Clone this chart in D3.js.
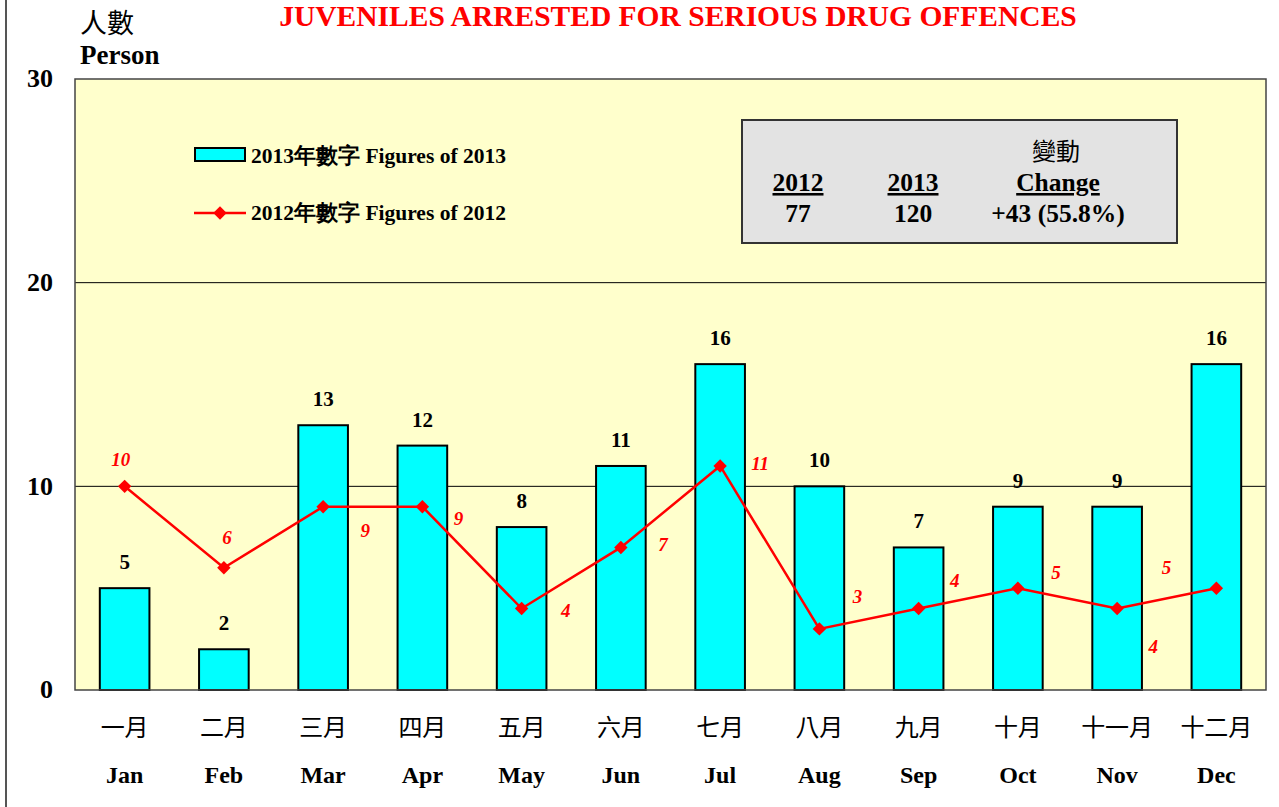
<!DOCTYPE html>
<html>
<head>
<meta charset="utf-8">
<script src="https://cdn.jsdelivr.net/npm/d3@7"></script>
<style>
  body { margin: 0; background: #fff; }
  svg { display: block; font-family: "Liberation Serif", "Times New Roman", serif; }
</style>
</head>
<body>
<div id="chart"></div>
<script>
const monthsZh = ['一月', '二月', '三月', '四月', '五月', '六月', '七月', '八月', '九月', '十月', '十一月', '十二月'];
const monthsEn = ['Jan', 'Feb', 'Mar', 'Apr', 'May', 'Jun', 'Jul', 'Aug', 'Sep', 'Oct', 'Nov', 'Dec'];
const figures2013 = [5, 2, 13, 12, 8, 11, 16, 10, 7, 9, 9, 16];
const figures2012 = [10, 6, 9, 9, 4, 7, 11, 3, 4, 5, 4, 5];
const yTicks = [0, 10, 20, 30];
// where each 2012 label sits relative to its marker (px)
const label2012Offset = [[-4, -20], [3, -24], [42, 30], [36, 18], [44, 8], [42, 4], [40, 4], [38, -26], [36, -22], [38, -9], [36, 44], [-50, -14]];

const W = 1279, H = 807;
const margin = { top: 79, right: 13, bottom: 117, left: 75 };
const width = W - margin.left - margin.right,
  height = H - margin.top - margin.bottom;

const svg = d3.select('#chart').append('svg')
  .attr('width', W)
  .attr('height', H);

// left frame edge
svg.append('line')
  .attr('x1', 6).attr('x2', 6).attr('y1', 0).attr('y2', H)
  .attr('stroke', '#555').attr('stroke-width', 2);

svg.append('text')
  .attr('x', 678).attr('y', 26)
  .attr('text-anchor', 'middle')
  .attr('fill', '#ff0000')
  .attr('font-weight', 'bold')
  .attr('font-size', 29.5)
  .text('JUVENILES ARRESTED FOR SERIOUS DRUG OFFENCES');

svg.append('text')
  .attr('x', 80).attr('y', 33)
  .attr('font-family', '"Noto Sans CJK TC", sans-serif')
  .attr('font-size', 27)
  .text('人數');
svg.append('text')
  .attr('x', 80).attr('y', 64)
  .attr('font-weight', 'bold')
  .attr('font-size', 27)
  .text('Person');

const g = svg.append('g')
  .attr('transform', `translate(${margin.left}, ${margin.top})`);

const x = d3.scaleBand()
  .range([0, width])
  .domain(monthsEn)
  .paddingInner(0.5)
  .paddingOuter(0.25);
const y = d3.scaleLinear()
  .range([height, 0])
  .domain([0, 30]);

g.append('rect')
  .attr('width', width).attr('height', height)
  .attr('fill', '#ffffcc');

g.selectAll('.grid')
  .data(yTicks.filter(d => d > 0 && d < 30))
  .enter().append('line')
  .attr('class', 'grid')
  .attr('x1', 0).attr('x2', width)
  .attr('y1', d => y(d)).attr('y2', d => y(d))
  .attr('stroke', '#000').attr('stroke-width', 1);

const yAxis = g.append('g')
  .call(d3.axisLeft(y).tickValues(yTicks).tickSize(0).tickPadding(22));
yAxis.select('.domain').remove();
yAxis.selectAll('text')
  .attr('font-family', '"Liberation Serif", serif')
  .attr('font-weight', 'bold')
  .attr('font-size', 26)
  .attr('dy', '0.3em')
  .attr('fill', '#000');

// bars
g.selectAll('.bar')
  .data(figures2013)
  .enter().append('rect')
  .attr('class', 'bar')
  .attr('x', (d, i) => x(monthsEn[i]))
  .attr('y', d => y(d))
  .attr('width', x.bandwidth())
  .attr('height', d => height - y(d))
  .attr('fill', '#00ffff')
  .attr('stroke', '#000')
  .attr('stroke-width', 2);

g.selectAll('.barLabel')
  .data(figures2013)
  .enter().append('text')
  .attr('class', 'barLabel')
  .attr('x', (d, i) => x(monthsEn[i]) + x.bandwidth() / 2)
  .attr('y', d => y(d) - 19)
  .attr('text-anchor', 'middle')
  .attr('font-weight', 'bold')
  .attr('font-size', 21)
  .text(d => d);

// 2012 line
const cx = (d, i) => x(monthsEn[i]) + x.bandwidth() / 2;
const line = d3.line()
  .x(cx)
  .y(d => y(d));
g.append('path')
  .datum(figures2012)
  .attr('d', line)
  .attr('fill', 'none')
  .attr('stroke', '#ff0000')
  .attr('stroke-width', 2.5);

const diamond = d3.symbol().type(d3.symbolSquare).size(90);
g.selectAll('.marker')
  .data(figures2012)
  .enter().append('path')
  .attr('class', 'marker')
  .attr('d', diamond)
  .attr('transform', (d, i) => `translate(${cx(d, i)}, ${y(d)}) rotate(45)`)
  .attr('fill', '#ff0000');

g.selectAll('.lineLabel')
  .data(figures2012)
  .enter().append('text')
  .attr('class', 'lineLabel')
  .attr('x', (d, i) => cx(d, i) + label2012Offset[i][0])
  .attr('y', (d, i) => y(d) + label2012Offset[i][1])
  .attr('text-anchor', 'middle')
  .attr('fill', '#ff0000')
  .attr('font-weight', 'bold')
  .attr('font-style', 'italic')
  .attr('font-size', 19)
  .text(d => d);

g.append('rect')
  .attr('width', width).attr('height', height)
  .attr('fill', 'none')
  .attr('stroke', '#444').attr('stroke-width', 1.5);

// x labels
const xAxis = g.append('g')
  .attr('transform', `translate(0, ${height})`);
xAxis.selectAll('.zh')
  .data(monthsZh)
  .enter().append('text')
  .attr('x', (d, i) => x(monthsEn[i]) + x.bandwidth() / 2)
  .attr('y', 46)
  .attr('text-anchor', 'middle')
  .attr('font-family', '"Noto Sans CJK TC", sans-serif')
  .attr('font-size', 24)
  .text(d => d);
xAxis.selectAll('.en')
  .data(monthsEn)
  .enter().append('text')
  .attr('x', d => x(d) + x.bandwidth() / 2)
  .attr('y', 93)
  .attr('text-anchor', 'middle')
  .attr('font-weight', 'bold')
  .attr('font-size', 24)
  .text(d => d);

// legend
const legend = svg.append('g');
legend.append('rect')
  .attr('x', 195).attr('y', 148).attr('width', 50).attr('height', 13)
  .attr('fill', '#00ffff').attr('stroke', '#000').attr('stroke-width', 2);
legend.append('text')
  .attr('x', 251).attr('y', 163)
  .attr('font-weight', 'bold').attr('font-size', 21.5)
  .text('2013年數字 Figures of 2013');
legend.append('line')
  .attr('x1', 194).attr('x2', 246).attr('y1', 213).attr('y2', 213)
  .attr('stroke', '#ff0000').attr('stroke-width', 2.5);
legend.append('path')
  .attr('d', diamond)
  .attr('transform', 'translate(220, 213) rotate(45)')
  .attr('fill', '#ff0000');
legend.append('text')
  .attr('x', 251).attr('y', 220)
  .attr('font-weight', 'bold').attr('font-size', 21.5)
  .text('2012年數字 Figures of 2012');

// summary box
const box = svg.append('g');
box.append('rect')
  .attr('x', 742).attr('y', 120).attr('width', 435).attr('height', 123)
  .attr('fill', '#e3e3e3').attr('stroke', '#333').attr('stroke-width', 2);
box.append('text')
  .attr('x', 1056).attr('y', 160)
  .attr('text-anchor', 'middle')
  .attr('font-family', '"Noto Sans CJK TC", sans-serif')
  .attr('font-size', 24)
  .text('變動');
const boxCols = [
  { head: '2012', val: '77', x: 798 },
  { head: '2013', val: '120', x: 913 },
  { head: 'Change', val: '+43 (55.8%)', x: 1058 }
];
boxCols.forEach(c => {
  box.append('text')
    .attr('x', c.x).attr('y', 191)
    .attr('text-anchor', 'middle')
    .attr('font-weight', 'bold').attr('font-size', 25.5)
    .attr('text-decoration', 'underline')
    .text(c.head);
  box.append('text')
    .attr('x', c.x).attr('y', 222)
    .attr('text-anchor', 'middle')
    .attr('font-weight', 'bold').attr('font-size', 25.5)
    .text(c.val);
});
</script>
</body>
</html>
